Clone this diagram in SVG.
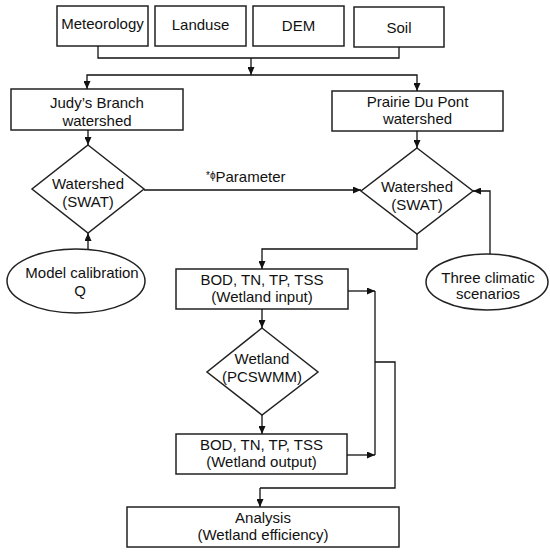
<svg xmlns="http://www.w3.org/2000/svg" width="550" height="553" viewBox="0 0 550 553">
<defs>
<marker id="ah" markerWidth="9" markerHeight="7" refX="8" refY="3.5" orient="auto" markerUnits="userSpaceOnUse">
<path d="M0,0 L8,3.5 L0,7 z" fill="#111"/>
</marker>
<style>
.b{fill:#fff;stroke:#222;stroke-width:1.5}
.t{font-family:"Liberation Sans",Arial,sans-serif;font-size:15px;fill:#111;text-anchor:middle}
.c{fill:none;stroke:#111;stroke-width:1.3}
.a{fill:none;stroke:#111;stroke-width:1.3;marker-end:url(#ah)}
</style>
</defs>
<rect width="550" height="553" fill="#fff"/>
<g id="meteorology"><rect class="b" x="57" y="6" width="91" height="40"/><text class="t" x="102.5" y="29">Meteorology</text></g>
<g id="landuse"><rect class="b" x="155" y="6" width="91" height="40"/><text class="t" x="200.5" y="30">Landuse</text></g>
<g id="dem"><rect class="b" x="253" y="6" width="91" height="40"/><text class="t" x="298.5" y="31">DEM</text></g>
<g id="soil"><rect class="b" x="354" y="7" width="90" height="40"/><text class="t" x="399" y="33">Soil</text></g>
<g id="judy"><rect class="b" x="11" y="89" width="172" height="41"/><text class="t" x="97" y="108">Judy’s Branch</text><text class="t" x="97" y="126">watershed</text></g>
<g id="prairie"><rect class="b" x="332" y="91" width="171" height="40"/><text class="t" x="417.5" y="107">Prairie Du Pont</text><text class="t" x="417.5" y="124">watershed</text></g>
<g id="swat-left"><polygon class="b" points="88,145 144,189 88,233 32,189"/><text class="t" x="88" y="189">Watershed</text><text class="t" x="88" y="207">(SWAT)</text></g>
<g id="swat-right"><polygon class="b" points="417,148 473,191 417,234 361,191"/><text class="t" x="417" y="192">Watershed</text><text class="t" x="417" y="210">(SWAT)</text></g>
<g id="calibration"><ellipse class="b" cx="76" cy="281" rx="69" ry="32"/><text class="t" x="82" y="278">Model calibration</text><text class="t" x="80" y="296">Q</text></g>
<g id="climatic"><ellipse class="b" cx="487" cy="282" rx="61" ry="28"/><text class="t" x="488" y="283">Three climatic</text><text class="t" x="488" y="299">scenarios</text></g>
<g id="wetland-input"><rect class="b" x="176" y="269" width="172" height="40"/><text class="t" x="262" y="285">BOD, TN, TP, TSS</text><text class="t" x="262" y="302">(Wetland input)</text></g>
<g id="wetland"><polygon class="b" points="262,328 318,372 262,415 207,372"/><text class="t" x="262" y="364">Wetland</text><text class="t" x="262" y="382">(PCSWMM)</text></g>
<g id="wetland-output"><rect class="b" x="176" y="434" width="171" height="40"/><text class="t" x="261.5" y="450">BOD, TN, TP, TSS</text><text class="t" x="261.5" y="467">(Wetland output)</text></g>
<g id="analysis"><rect class="b" x="127" y="507" width="272" height="40"/><text class="t" x="263" y="523">Analysis</text><text class="t" x="263" y="540">(Wetland efficiency)</text></g>
<g id="connectors">
<polyline class="c" points="98,46 98,58 399,58 399,47"/>
<line class="a" x1="251" y1="58" x2="251" y2="75"/>
<polyline class="a" points="251,75 87,75 87,89"/>
<polyline class="a" points="251,75 417,75 417,91"/>
<line class="a" x1="88" y1="130" x2="88" y2="145"/>
<line class="a" x1="417" y1="131" x2="417" y2="148"/>
<line class="a" x1="144" y1="190" x2="361" y2="190"/>
<text class="t" x="206" y="182" style="text-anchor:start"><tspan font-size="10" dy="-3">*ϕ</tspan><tspan dy="3">Parameter</tspan></text>
<line class="a" x1="88" y1="249" x2="88" y2="233"/>
<polyline class="a" points="490,254 490,191 473,191"/>
<polyline class="a" points="417,234 417,249 262,249 262,269"/>
<line class="a" x1="348" y1="291" x2="375" y2="291"/>
<line class="c" x1="375" y1="291" x2="375" y2="455"/>
<line class="a" x1="262" y1="309" x2="262" y2="328"/>
<line class="a" x1="262" y1="415" x2="262" y2="434"/>
<line class="a" x1="347" y1="455" x2="375" y2="455"/>
<polyline class="c" points="375,362 395,362 395,488 260,488"/>
<line class="a" x1="260" y1="488" x2="260" y2="507"/>
</g>
</svg>
